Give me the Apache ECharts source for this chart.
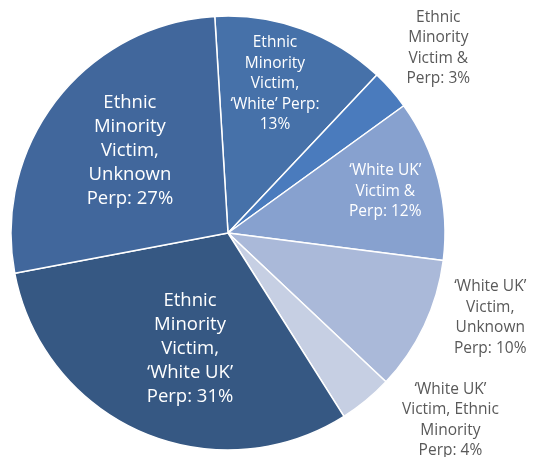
<!DOCTYPE html>
<html>
<head>
<meta charset="utf-8">
<script src="https://cdn.jsdelivr.net/npm/echarts@6/dist/echarts.min.js"></script>
<style>
  html, body { margin: 0; padding: 0; background: #ffffff; }
  #chart { width: 537px; height: 457px; }
</style>
</head>
<body>
<div id="chart"></div>
<script>
// Victim / perpetrator ethnicity breakdown (share of incidents, %)
const categories = [
  'Ethnic\nMinority\nVictim,\n‘White’ Perp',
  'Ethnic\nMinority\nVictim &\nPerp',
  '‘White UK’\nVictim &\nPerp',
  '‘White UK’\nVictim,\nUnknown\nPerp',
  '‘White UK’\nVictim, Ethnic\nMinority\nPerp',
  'Ethnic\nMinority\nVictim,\n‘White UK’\nPerp',
  'Ethnic\nMinority\nVictim,\nUnknown\nPerp'
];
const values = [13, 3, 12, 10, 4, 31, 27];
// whether the percentage goes on its own line under the name
const valueOnNewLine = [true, false, false, false, false, false, false];

// ---- styling / layout ----
const sliceColors = ['#4671a9', '#4a7bbd', '#87a1cf', '#aab9d9', '#c6cfe3', '#365883', '#41679c'];
const labelOutside = [false, true, false, true, true, false, false];
const labelLarge   = [false, false, false, false, false, true, true];
// label anchor: fraction of radius, and angular nudge (deg) from slice middle
const labelRadius = [0.72, 1.29, 0.75, 1.27, 1.34, 0.56, 0.59];
const labelTurn   = [-2.4, 0, -0.6, -7.4, -10.4, -5.3, 2.1];

const CX = 228, CY = 233, R = 217, START = 93.5;
const FONT = '"Open Sans", "Noto Sans", "Liberation Sans", sans-serif';

const total = values.reduce((a, b) => a + b, 0);
let acc = 0;
const midAngles = values.map(v => { const m = (acc + v / 2) / total * 360; acc += v; return m; });

const chart = echarts.init(document.getElementById('chart'), null, { renderer: 'canvas' });

chart.setOption({
  animation: false,
  backgroundColor: '#ffffff',
  series: [{
    type: 'pie',
    center: [CX, CY],
    radius: R,
    startAngle: START,
    clockwise: true,
    avoidLabelOverlap: false,
    itemStyle: { borderColor: '#ffffff', borderWidth: 1.5 },
    label: {
      show: true,
      position: 'inside',
      fontFamily: FONT,
      align: 'center',
      formatter: p => p.name + ':' + (valueOnNewLine[p.dataIndex] ? '\n' : ' ') + p.value + '%'
    },
    labelLine: { show: false },
    emphasis: { disabled: true },
    labelLayout: params => {
      const i = params.dataIndex;
      const theta = (midAngles[i] + (90 - START) + labelTurn[i]) * Math.PI / 180;
      return {
        x: CX + labelRadius[i] * R * Math.sin(theta),
        y: CY - labelRadius[i] * R * Math.cos(theta),
        align: 'center',
        verticalAlign: 'middle'
      };
    },
    data: categories.map((name, i) => ({
      name: name,
      value: values[i],
      itemStyle: { color: sliceColors[i] },
      label: {
        color: labelOutside[i] ? '#595959' : '#ffffff',
        fontSize: labelLarge[i] ? 18.5 : 15.5,
        lineHeight: labelLarge[i] ? 24 : 20.5
      }
    }))
  }]
});
</script>
</body>
</html>
